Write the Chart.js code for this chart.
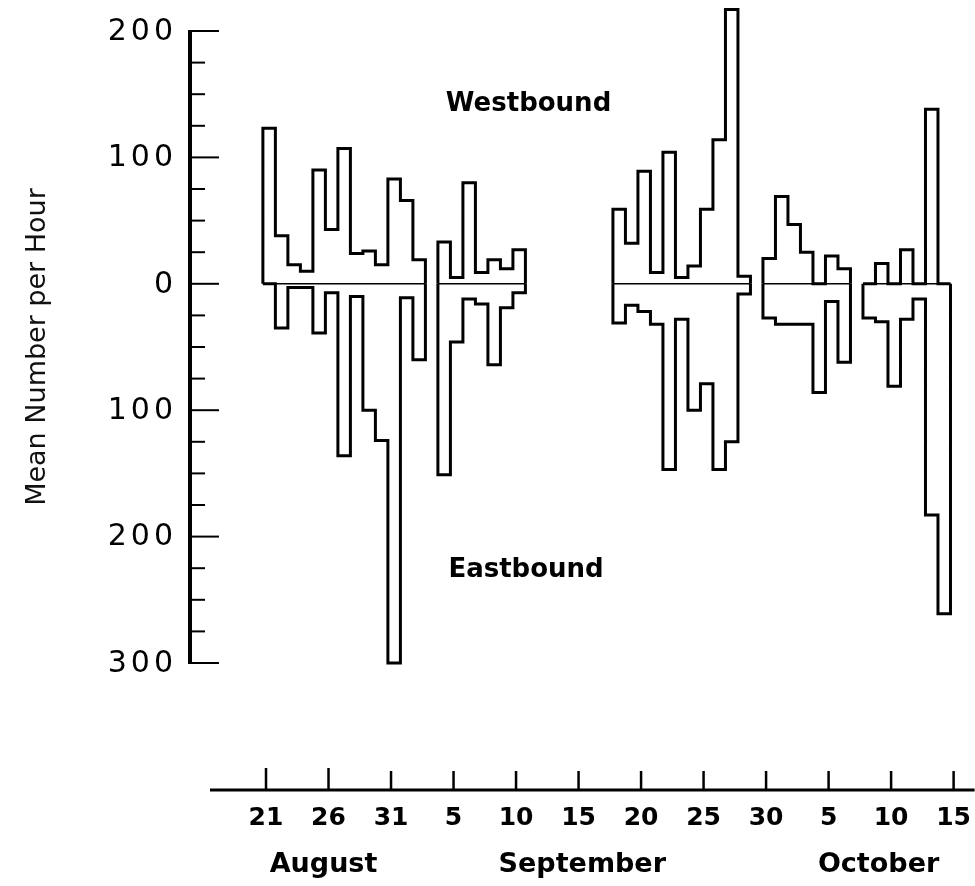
<!DOCTYPE html>
<html>
<head>
<meta charset="utf-8">
<script src="https://cdn.jsdelivr.net/npm/chart.js@4.4.1/dist/chart.umd.min.js"></script>
<style>
  body { margin: 0; background: #fff; }
  canvas { display: block; }
</style>
</head>
<body>
<canvas id="myChart" width="975" height="886"></canvas>
<script>
// one value per day, from August 21 (day 0) to October 14 (day 54), null = no count
var westbound = [123, 38, 15, 10, 90, 43, 107, 24, 26, 15, 83, 66, 19,
    null, 33, 5, 80, 9, 19, 12, 27,
    null, null, null, null, null, null, null,
    59, 32, 89, 9, 104, 5, 14, 59, 114, 217, 6,
    null, 20, 69, 47, 25, 0, 22, 12,
    null, 0, 16, 0, 27, 0, 138, 0];

var eastbound = [0, 35, 3, 3, 39, 7, 136, 10, 100, 124, 300, 11, 60,
    null, 151, 46, 12, 16, 64, 19, 7,
    null, null, null, null, null, null, null,
    31, 17, 22, 32, 147, 28, 100, 79, 147, 125, 8,
    null, 27, 32, 32, 32, 86, 14, 62,
    null, 27, 30, 81, 28, 12, 183, 261];

var xTickDays = [0, 5, 10, 15, 20, 25, 30, 35, 40, 45, 50, 55];
var xTickLabels = ['21', '26', '31', '5', '10', '15', '20', '25', '30', '5', '10', '15'];
var monthNames = ['August', 'September', 'October'];
var monthCenters = [4.6, 25.3, 49.0];
var yTickLabels = [200, 100, 0, -100, -200, -300];

var barStart = -0.25; // a day's bar runs from day-0.25 to day+0.75

function outline(values, sign) {
    var pts = [];
    var inSeg = false;
    for (var k = 0; k <= values.length; k++) {
        var v = k < values.length ? values[k] : null;
        if (v === null) {
            if (inSeg) {
                pts.push({x: k + barStart, y: 0});
                pts.push({x: k + barStart, y: null});
                inSeg = false;
            }
            continue;
        }
        if (!inSeg) {
            pts.push({x: k + barStart, y: 0});
            inSeg = true;
        }
        pts.push({x: k + barStart, y: sign * v});
    }
    return pts;
}

function baseline(values) {
    var pts = [];
    var start = null;
    for (var k = 0; k <= values.length; k++) {
        var v = k < values.length ? values[k] : null;
        if (v !== null && start === null) start = k;
        if (v === null && start !== null) {
            pts.push({x: start + barStart, y: 0});
            pts.push({x: k + barStart, y: 0});
            pts.push({x: k + barStart, y: null});
            start = null;
        }
    }
    return pts;
}

var axesPlugin = {
    id: 'axes',
    afterDraw: function(chart) {
        var ctx = chart.ctx;
        var xs = chart.scales.x;
        var ys = chart.scales.y;
        var area = chart.chartArea;
        ctx.save();
        ctx.strokeStyle = '#000';
        ctx.fillStyle = '#000';

        // y axis line and inward ticks
        ctx.lineWidth = 4;
        ctx.beginPath();
        ctx.moveTo(area.left, ys.getPixelForValue(200) - 1);
        ctx.lineTo(area.left, ys.getPixelForValue(-300) + 1);
        ctx.stroke();
        ctx.lineWidth = 2;
        ys.ticks.forEach(function(t) {
            var py = ys.getPixelForValue(t.value);
            var len = (t.value % 100 === 0) ? 29 : 15;
            ctx.beginPath();
            ctx.moveTo(area.left, py);
            ctx.lineTo(area.left + len, py);
            ctx.stroke();
        });

        // y labels, a little spaced out like the original lettering
        ctx.font = '30px "DejaVu Sans"';
        ctx.textAlign = 'right';
        ctx.textBaseline = 'middle';
        ctx.letterSpacing = '4px';
        yTickLabels.forEach(function(v) {
            ctx.fillText(String(Math.abs(v)), area.left - 13, ys.getPixelForValue(v) + 1);
        });
        ctx.letterSpacing = '0px';

        // separate time axis below the plot
        var axisY = area.bottom + 127;
        ctx.lineWidth = 3;
        ctx.beginPath();
        ctx.moveTo(area.left + 20, axisY);
        ctx.lineTo(area.right, axisY);
        ctx.stroke();
        ctx.lineWidth = 2.5;
        xTickDays.forEach(function(d, i) {
            var px = xs.getPixelForValue(d);
            ctx.beginPath();
            ctx.moveTo(px, axisY);
            ctx.lineTo(px, axisY - (i < 2 ? 22 : 19));
            ctx.stroke();
        });

        ctx.font = 'bold 27px "DejaVu Sans"';
        ctx.textAlign = 'center';
        monthNames.forEach(function(m, i) {
            ctx.fillText(m, xs.getPixelForValue(monthCenters[i]), area.bottom + 202);
        });

        ctx.font = 'bold 26px "DejaVu Sans"';
        ctx.fillText('Westbound', xs.getPixelForValue(21.0), ys.getPixelForValue(142));
        ctx.fillText('Eastbound', xs.getPixelForValue(20.8), ys.getPixelForValue(-227));
        ctx.restore();
    }
};

var myChart = new Chart(document.getElementById('myChart').getContext('2d'), {
    type: 'line',
    data: {
        datasets: [{
            label: 'Westbound',
            data: outline(westbound, 1),
            stepped: true,
            borderColor: '#000',
            borderWidth: 3,
            pointRadius: 0,
            fill: false,
            clip: false
        }, {
            label: 'Eastbound',
            data: outline(eastbound, -1),
            stepped: true,
            borderColor: '#000',
            borderWidth: 3,
            pointRadius: 0,
            fill: false,
            clip: false
        }, {
            label: 'zero',
            data: baseline(westbound),
            borderColor: '#000',
            borderWidth: 1.5,
            pointRadius: 0,
            fill: false
        }]
    },
    options: {
        responsive: false,
        animation: false,
        spanGaps: false,
        layout: { padding: { top: 31, left: 0, right: 0, bottom: 0 } },
        plugins: { legend: { display: false }, tooltip: { enabled: false } },
        scales: {
            x: {
                type: 'linear',
                min: -6.08,
                max: 56.68,
                // tick marks hidden, their length only pushes the labels down
                grid: { display: false, drawTicks: true, tickLength: 136 },
                border: { display: false },
                afterFit: function(scale) { scale.height = 223; },
                afterBuildTicks: function(scale) {
                    scale.ticks = xTickDays.map(function(d) { return {value: d}; });
                },
                ticks: {
                    autoSkip: false,
                    maxRotation: 0,
                    padding: 4,
                    color: '#000',
                    font: { family: 'DejaVu Sans', size: 25, weight: 'bold' },
                    callback: function(value, index) { return xTickLabels[index]; }
                }
            },
            y: {
                min: -300,
                max: 200,
                grid: { display: false, drawTicks: false },
                border: { display: false },
                afterFit: function(scale) { scale.width = 190; },
                ticks: {
                    stepSize: 25,
                    autoSkip: false,
                    display: false
                },
                title: {
                    display: true,
                    text: 'Mean Number per Hour',
                    color: '#111',
                    padding: { top: 22, bottom: 0 },
                    font: { family: 'DejaVu Sans', size: 27 }
                }
            }
        }
    },
    plugins: [axesPlugin]
});
</script>
</body>
</html>
